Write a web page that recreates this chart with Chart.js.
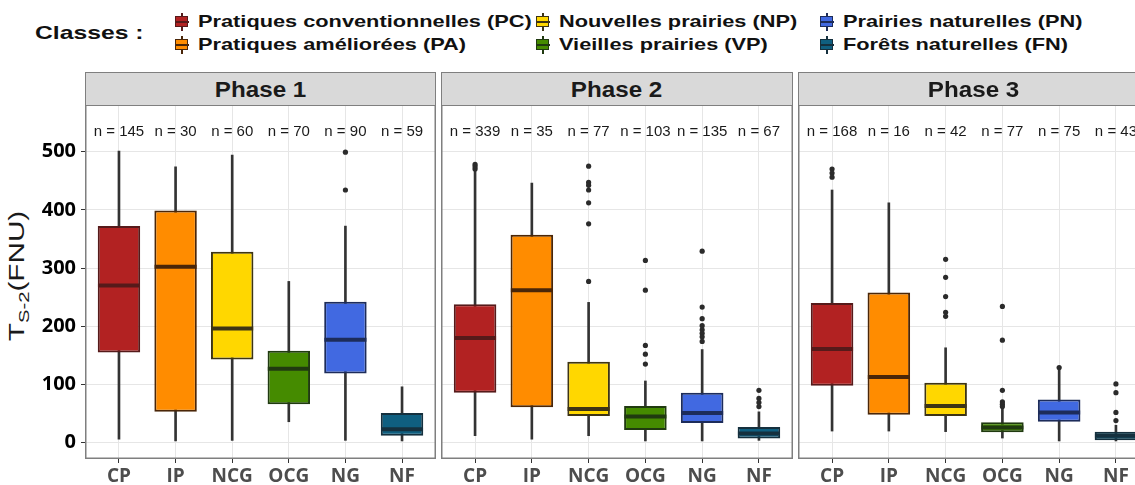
<!DOCTYPE html>
<html>
<head>
<meta charset="utf-8">
<script src="https://cdn.jsdelivr.net/npm/chart.js@4.4.1/dist/chart.umd.min.js"></script>
<style>
body { margin: 0; width: 1135px; height: 485px; overflow: hidden; background: #fff; position: relative; font-family: "Liberation Sans", Arial, sans-serif; }
.abs { position: absolute; }
#title { left: 35px; top: 21px; font-size: 19px; font-weight: bold; color: #111; transform: scaleX(1.3); transform-origin: left center; line-height: 24px; }
.item { position: absolute; height: 22px; display: flex; align-items: center; }
.item .txt { font-size: 17px; font-weight: bold; color: #111; white-space: nowrap; margin-left: 9px; transform: scaleX(1.28); transform-origin: left center; }
.glyph { position: relative; width: 14px; height: 18px; }
.glyph .wh { position: absolute; left: 6px; top: 0; width: 2px; height: 18px; }
.glyph .bx { position: absolute; left: 0; top: 3px; width: 11px; height: 9px; border: 1.5px solid; }
.glyph .md { position: absolute; left: 0; top: 8px; width: 14px; height: 2px; }
.strip { position: absolute; top: 72px; height: 34px; background: #d9d9d9; border: 1px solid #7f7f7f; text-align: center; line-height: 33px; font-size: 22px; font-weight: bold; color: #1a1a1a; box-sizing: border-box; }
.strip span { display: inline-block; transform: scaleX(1.1); }
#ytitle { left: 18px; top: 276px; font-size: 22px; color: #1a1a1a; white-space: nowrap; transform: translate(-50%, -50%) rotate(-90deg) scaleX(1.35); }
#ytitle sub { font-size: 15px; }
</style>
</head>
<body>
<div id="title" class="abs">Classes :</div>
<div id="legend"></div>
<div id="ytitle" class="abs">T<sub>S-2</sub>(FNU)</div>
<canvas id="phase1" class="abs" style="left:0;top:105px" width="436" height="380"></canvas>
<canvas id="phase2" class="abs" style="left:441px;top:105px" width="352" height="380"></canvas>
<canvas id="phase3" class="abs" style="left:798px;top:105px" width="352" height="380"></canvas>
<div class="strip" style="left:85px;width:351px"><span>Phase 1</span></div>
<div class="strip" style="left:441px;width:352px"><span>Phase 2</span></div>
<div class="strip" style="left:798px;width:352px"><span>Phase 3</span></div>
<script>
var categories = ['CP', 'IP', 'NCG', 'OCG', 'NG', 'NF'];
var classNames = ['Pratiques conventionnelles (PC)', 'Pratiques améliorées (PA)',
	'Nouvelles prairies (NP)', 'Vieilles prairies (VP)',
	'Prairies naturelles (PN)', 'Forêts naturelles (FN)'];
var boxFills = ['#b22222', '#ff8c00', '#ffd700', '#458b00', '#4169e1', '#0f5f80'];
var boxLines = ['#561a1a', '#4a2608', '#3d3414', '#203a10', '#1d2c5a', '#15303e'];
var yTicks = [0, 100, 200, 300, 400, 500];
var nLabelLevel = 534;

var phase1Counts = [145, 30, 60, 70, 90, 59];
var phase1Low = [6, 3, 4, 36, 4, 3];
var phase1Q1 = [155, 53, 143, 66, 119, 12];
var phase1Median = [270, 302, 196, 127, 177, 23];
var phase1Q3 = [372, 399, 328, 158, 242, 51];
var phase1High = [501, 474, 494, 277, 372, 96];
var phase1Outliers = [[], [], [], [], [499, 434], []];

var phase2Counts = [339, 35, 77, 103, 135, 67];
var phase2Low = [12, 6, 12, 3, 3, 4];
var phase2Q1 = [86, 61, 46, 22, 34, 7];
var phase2Median = [180, 262, 58, 45, 51, 16];
var phase2Q3 = [238, 357, 139, 63, 86, 27];
var phase2High = [466, 446, 241, 106, 160, 53];
var phase2Outliers = [[478, 474, 470], [], [475, 447, 442, 434, 412, 376, 277],
	[313, 262, 167, 152, 135], [329, 233, 213, 201, 194, 188, 182, 174], [90, 76, 69, 62]];

var phase3Counts = [168, 16, 42, 77, 75, 43];
var phase3Low = [20, 20, 19, 8, 3, 3];
var phase3Q1 = [98, 48, 46, 18, 36, 4];
var phase3Median = [161, 113, 63, 26, 52, 12];
var phase3Q3 = [240, 258, 103, 35, 74, 19];
var phase3High = [434, 412, 163, 59, 126, 30];
var phase3Outliers = [[470, 463, 456], [], [315, 284, 251, 224, 217],
	[234, 176, 90, 70, 66, 62], [129], [101, 86, 52, 38]];

// legend, filled column by column like ggplot
var legendCols = [175, 536, 820];
var legendRows = [11, 34];
var legendBox = document.getElementById('legend');
for (var k = 0; k < classNames.length; k++) {
	var item = document.createElement('div');
	item.className = 'item';
	item.style.left = legendCols[Math.floor(k / 2)] + 'px';
	item.style.top = legendRows[k % 2] + 'px';
	item.innerHTML = '<div class="glyph"><div class="wh" style="background:' + boxLines[k] + '"></div>'
		+ '<div class="bx" style="background:' + boxFills[k] + ';border-color:' + boxLines[k] + '"></div>'
		+ '<div class="md" style="background:' + boxLines[k] + '"></div></div>'
		+ '<span class="txt">' + classNames[k] + '</span>';
	legendBox.appendChild(item);
}

var nLabels = {
	id: 'nLabels',
	afterDatasetsDraw: function(chart, args, opts) {
		var ctx = chart.ctx, x = chart.scales.x, y = chart.scales.y;
		ctx.save();
		ctx.font = '15px "Liberation Sans", Arial, sans-serif';
		ctx.fillStyle = '#1a1a1a';
		ctx.textAlign = 'center';
		ctx.textBaseline = 'middle';
		for (var i = 0; i < opts.counts.length; i++) {
			ctx.fillText('n = ' + opts.counts[i], x.getPixelForValue(i + 1), y.getPixelForValue(nLabelLevel));
		}
		ctx.restore();
	}
};

var panelBorder = {
	id: 'panelBorder',
	afterDraw: function(chart) {
		var a = chart.chartArea, ctx = chart.ctx;
		ctx.save();
		ctx.strokeStyle = '#7f7f7f';
		ctx.lineWidth = 1.5;
		ctx.strokeRect(a.left + 0.75, a.top, a.right - a.left - 1.5, a.bottom - a.top - 0.75);
		ctx.restore();
	}
};

function noPadding(scale) {
	scale.paddingTop = 0;
	scale.paddingBottom = 0;
	scale.paddingLeft = 0;
	scale.paddingRight = 0;
}

function drawPhase(id, counts, low, q1, median, q3, high, outliers, withAxis) {
	var whiskers = [], boxes = [], medians = [], points = [];
	for (var i = 0; i < categories.length; i++) {
		whiskers.push({x: i + 1, y: [low[i], high[i]]});
		boxes.push({x: i + 1, y: [q1[i], q3[i]]});
		medians.push({x: i + 1, y: median[i]});
		for (var j = 0; j < outliers[i].length; j++) {
			points.push({x: i + 1, y: outliers[i][j]});
		}
	}
	new Chart(document.getElementById(id), {
		type: 'bar',
		data: {
			datasets: [ {
				data: whiskers,
				backgroundColor: '#333333',
				barThickness: 2,
				grouped: false,
				order: 4
			}, {
				data: boxes,
				backgroundColor: boxFills,
				borderColor: boxLines,
				borderWidth: 2,
				borderSkipped: false,
				categoryPercentage: 1,
				barPercentage: 0.75,
				grouped: false,
				order: 3
			}, {
				type: 'scatter',
				data: medians,
				pointStyle: 'line',
				pointRadius: 21,
				pointBorderWidth: 4,
				pointBorderColor: boxLines,
				order: 2
			}, {
				type: 'scatter',
				data: points,
				pointRadius: 2.6,
				pointBackgroundColor: '#2b2b2b',
				pointBorderWidth: 0,
				order: 1
			} ]
		},
		options: {
			responsive: false,
			animation: false,
			events: [],
			layout: { padding: 0, autoPadding: false },
			plugins: {
				legend: { display: false },
				tooltip: { enabled: false },
				nLabels: { counts: counts }
			},
			scales: {
				x: {
					type: 'linear',
					offset: false,
					min: 0.4,
					max: 6.6,
					afterBuildTicks: function(scale) {
						scale.ticks = categories.map(function(c, i) { return {value: i + 1}; });
					},
					afterFit: function(scale) { scale.height = 26; noPadding(scale); },
					grid: { color: '#e6e6e6', offset: false, tickColor: '#333333', tickLength: 4 },
					border: { display: false },
					ticks: {
						autoSkip: false,
						maxRotation: 0,
						padding: 2,
						color: '#4d4d4d',
						font: { family: 'Open Sans', weight: 'bold', size: 19 },
						callback: function(v) { return categories[Math.round(v) - 1]; }
					}
				},
				y: {
					type: 'linear',
					min: -28,
					max: 580,
					afterBuildTicks: function(scale) {
						scale.ticks = yTicks.map(function(v) { return {value: v}; });
					},
					afterFit: function(scale) { scale.width = withAxis ? 85 : 0; noPadding(scale); },
					grid: { color: '#e6e6e6', tickColor: '#333333', tickLength: 4, drawTicks: withAxis },
					border: { display: false },
					ticks: {
						display: withAxis,
						autoSkip: false,
						padding: 5,
						color: '#000000',
						font: { family: 'Open Sans', weight: 'bold', size: 20 },
						callback: function(v) { return String(v); }
					}
				}
			}
		},
		plugins: [nLabels, panelBorder]
	});
}

drawPhase('phase1', phase1Counts, phase1Low, phase1Q1, phase1Median, phase1Q3, phase1High, phase1Outliers, true);
drawPhase('phase2', phase2Counts, phase2Low, phase2Q1, phase2Median, phase2Q3, phase2High, phase2Outliers, false);
drawPhase('phase3', phase3Counts, phase3Low, phase3Q1, phase3Median, phase3Q3, phase3High, phase3Outliers, false);
</script>
</body>
</html>
